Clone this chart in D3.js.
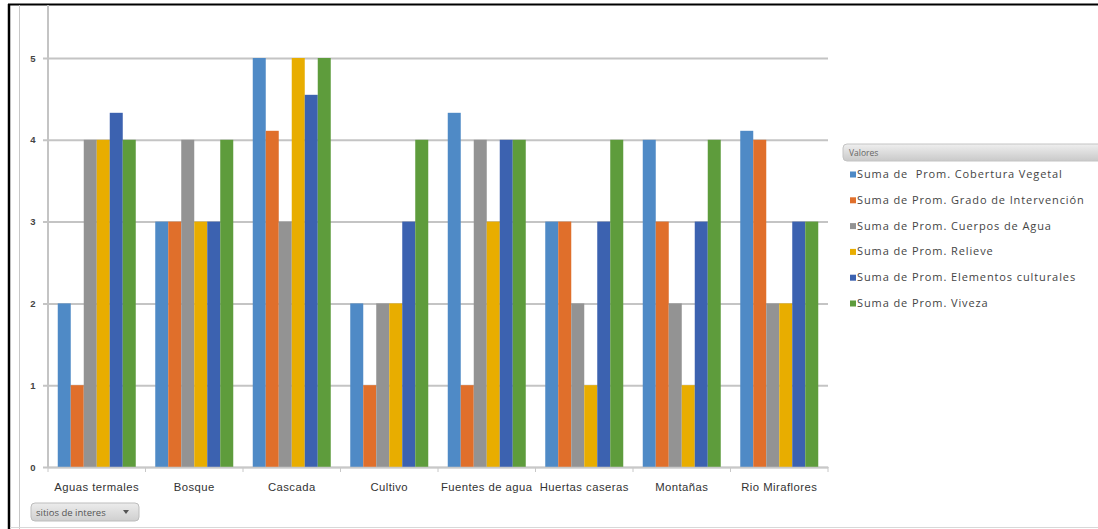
<!DOCTYPE html>
<html>
<head>
<meta charset="utf-8">
<script src="https://cdn.jsdelivr.net/npm/d3@7"></script>
<style>
  html, body { margin: 0; padding: 0; background: #fff; }
  svg { display: block; font-family: "Open Sans", "Liberation Sans", sans-serif; }
</style>
</head>
<body>
<svg id="chart" width="1098" height="529"></svg>
<script>
// Sites of interest (x categories)
const categories = ["Aguas termales", "Bosque", "Cascada", "Cultivo", "Fuentes de agua", "Huertas caseras", "Montañas", "Rio Miraflores"];

// Series names (legend order)
const seriesNames = [
  "Suma de  Prom. Cobertura Vegetal",
  "Suma de Prom. Grado de Intervención",
  "Suma de Prom. Cuerpos de Agua",
  "Suma de Prom. Relieve",
  "Suma de Prom. Elementos culturales",
  "Suma de Prom. Viveza"
];

// Values per series, one per category
const coberturaVegetal   = [2, 3, 5, 2, 4.33, 3, 4, 4.11];
const gradoIntervencion  = [1, 3, 4.11, 1, 1, 3, 3, 4];
const cuerposAgua        = [4, 4, 3, 2, 4, 2, 2, 2];
const relieve            = [4, 3, 5, 2, 3, 1, 1, 2];
const elementosCultur    = [4.33, 3, 4.55, 3, 4, 3, 3, 3];
const viveza             = [4, 4, 5, 4, 4, 4, 4, 3];

const yTicks = [0, 1, 2, 3, 4, 5];

const seriesValues = [coberturaVegetal, gradoIntervencion, cuerposAgua, relieve, elementosCultur, viveza];
const colors = ["#4f8ac6", "#e06f2b", "#939393", "#e8ad00", "#3c62b0", "#5e9c3c"];

const svg = d3.select("#chart");

// Frame
svg.append("line").attr("x1", 8).attr("x2", 1098).attr("y1", 4.5).attr("y2", 4.5)
  .attr("stroke", "#000").attr("stroke-width", 2);
svg.append("line").attr("x1", 9).attr("x2", 9).attr("y1", 4).attr("y2", 529)
  .attr("stroke", "#000").attr("stroke-width", 2.5);
svg.append("line").attr("x1", 19.5).attr("x2", 19.5).attr("y1", 5).attr("y2", 529)
  .attr("stroke", "#c8c8c8").attr("stroke-width", 1);
svg.append("line").attr("x1", 10).attr("x2", 1098).attr("y1", 527.5).attr("y2", 527.5)
  .attr("stroke", "#d8d8d8").attr("stroke-width", 1);

const plot = { left: 48, right: 828, top: 58, bottom: 467 };

const x = d3.scaleBand().domain(categories).range([plot.left, plot.right])
  .paddingInner(0.2).paddingOuter(0.1);
const xs = d3.scaleBand().domain(d3.range(seriesNames.length)).range([0, x.bandwidth()]);
const y = d3.scaleLinear().domain([0, 5]).range([plot.bottom, plot.top]);

// Gridlines + y axis labels
const yAxis = d3.axisLeft(y).tickValues(yTicks).tickSize(-(plot.right - plot.left) - 5).tickPadding(10).tickFormat(d3.format("d"));
const yg = svg.append("g").attr("transform", `translate(${plot.left},0)`).call(yAxis);
yg.select(".domain").remove();
yg.selectAll(".tick line").attr("stroke", "#c4c4c4").attr("stroke-width", 2).attr("x2", -5)
  .attr("x1", plot.right - plot.left);
yg.selectAll(".tick text").attr("fill", "#444").attr("font-size", 9.5).attr("font-weight", "bold")
  .attr("x", -15).attr("text-anchor", "middle");

// Vertical value axis line
svg.append("line").attr("x1", plot.left).attr("x2", plot.left).attr("y1", 5).attr("y2", plot.bottom)
  .attr("stroke", "#c4c4c4").attr("stroke-width", 2);

// Bars
const groups = svg.append("g").selectAll("g").data(categories).join("g")
  .attr("transform", d => `translate(${x(d)},0)`);
groups.selectAll("rect")
  .data((c, ci) => seriesValues.map((vals, si) => ({ si, v: vals[ci] })))
  .join("rect")
  .attr("x", d => xs(d.si))
  .attr("width", xs.bandwidth())
  .attr("y", d => y(d.v))
  .attr("height", d => y(0) - y(d.v))
  .attr("fill", d => colors[d.si]);

// Category axis
const xAxis = d3.axisBottom(x).tickSize(0).tickPadding(16);
const xg = svg.append("g").attr("transform", `translate(0,${plot.bottom})`).call(xAxis);
xg.select(".domain").attr("stroke", "#c8c8c8").attr("stroke-width", 1.5);
xg.selectAll(".tick text").attr("fill", "#333").attr("font-size", 11.3).attr("letter-spacing", 0.45);
// Boundary tick marks between categories
const step = x.step();
const boundaries = d3.range(categories.length + 1).map(i => plot.left + i * step);
svg.append("g").selectAll("line").data(boundaries).join("line")
  .attr("x1", d => d).attr("x2", d => d)
  .attr("y1", plot.bottom).attr("y2", plot.bottom + 5)
  .attr("stroke", "#c8c8c8").attr("stroke-width", 1);

// Field button
const btn = svg.append("g").attr("transform", "translate(31,503)");
const grad = svg.append("defs").append("linearGradient").attr("id", "btnGrad")
  .attr("x1", 0).attr("x2", 0).attr("y1", 0).attr("y2", 1);
grad.append("stop").attr("offset", "0%").attr("stop-color", "#ececec");
grad.append("stop").attr("offset", "100%").attr("stop-color", "#cfcfcf");
btn.append("rect").attr("width", 108).attr("height", 18).attr("rx", 4)
  .attr("fill", "url(#btnGrad)").attr("stroke", "#bdbdbd");
btn.append("text").attr("x", 5).attr("y", 12.5).attr("font-size", 9.5).attr("fill", "#555")
  .text("sitios de interes");
btn.append("path").attr("d", "M92,7 L98,7 L95,11 Z").attr("fill", "#555");

// Legend
const lg = svg.append("g").attr("transform", "translate(843,144)");
const lgGrad = svg.select("defs").append("linearGradient").attr("id", "lgGrad")
  .attr("x1", 0).attr("x2", 0).attr("y1", 0).attr("y2", 1);
lgGrad.append("stop").attr("offset", "0%").attr("stop-color", "#efefef");
lgGrad.append("stop").attr("offset", "100%").attr("stop-color", "#c9c9c9");
lg.append("rect").attr("width", 260).attr("height", 17).attr("rx", 4)
  .attr("fill", "url(#lgGrad)").attr("stroke", "#c4c4c4");
lg.append("text").attr("x", 6).attr("y", 12).attr("font-size", 8.5).attr("fill", "#666").text("Valores");

const items = lg.selectAll("g.item").data(seriesNames).join("g").attr("class", "item")
  .attr("transform", (d, i) => `translate(7,${34 + i * 25.8})`);
items.append("rect").attr("x", 0).attr("y", -6.5).attr("width", 6).attr("height", 6)
  .attr("fill", (d, i) => colors[i]);
items.append("text").attr("x", 7).attr("y", 0).attr("font-size", 11).attr("fill", "#444")
  .attr("letter-spacing", 0.9).style("white-space", "pre")
  .text(d => d);
</script>
</body>
</html>
